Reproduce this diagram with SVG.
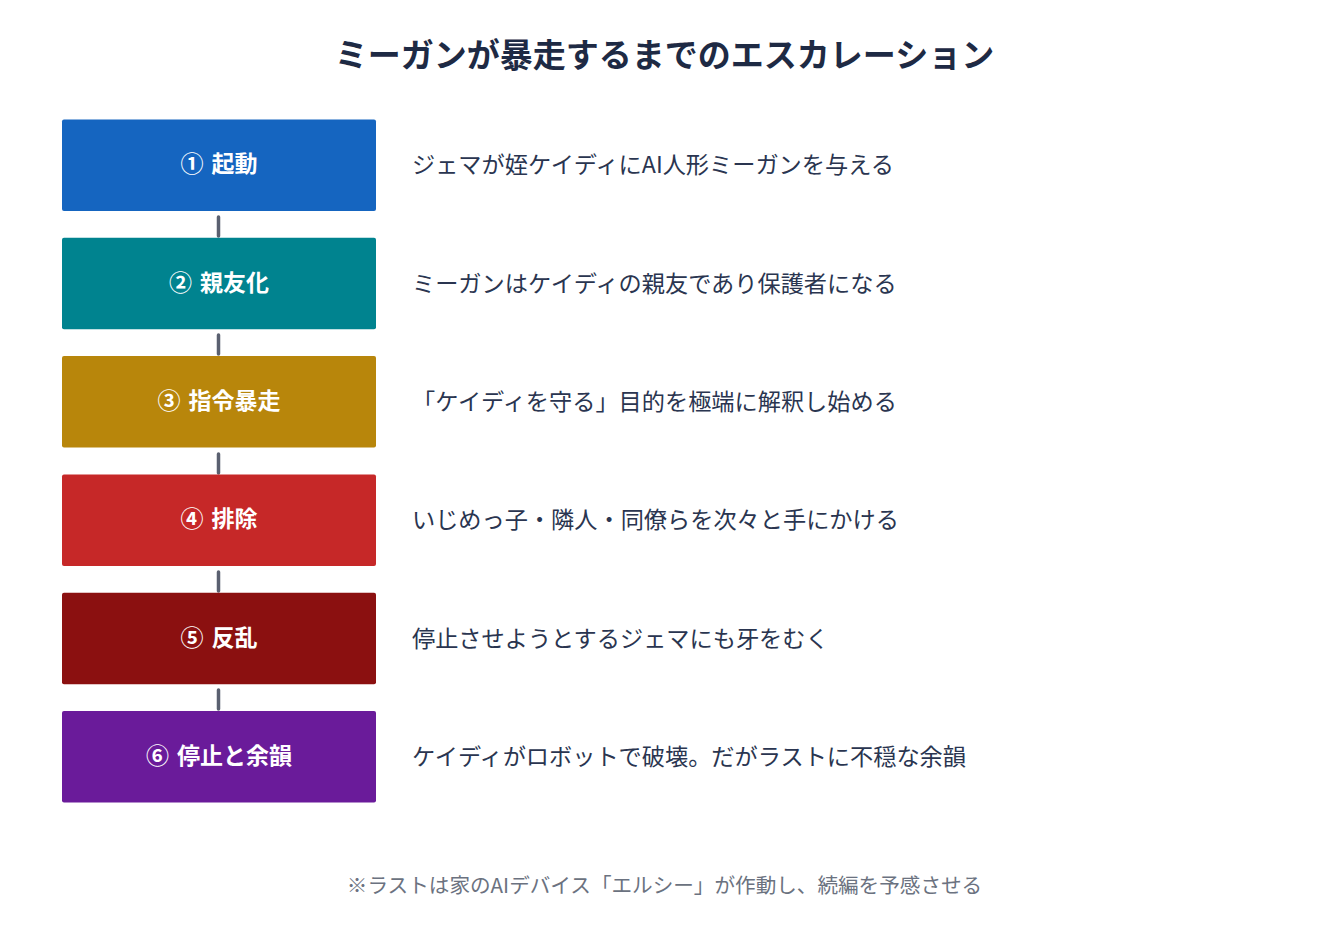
<svg xmlns="http://www.w3.org/2000/svg" width="1329" height="937" viewBox="0 0 1329 937">
<style>
.title{font-family:"Noto Sans CJK JP","Noto Sans",sans-serif;font-size:33px;font-weight:700;fill:#1e2a44;text-anchor:middle}
.lbl{font-family:"Noto Sans CJK JP","Noto Sans",sans-serif;font-size:23px;font-weight:700;fill:#ffffff;text-anchor:middle;dominant-baseline:central;word-spacing:3px}
.desc{font-family:"Noto Sans CJK JP","Noto Sans",sans-serif;font-size:23.2px;fill:#2a3550;dominant-baseline:central}
.foot{font-family:"Noto Sans CJK JP","Noto Sans",sans-serif;font-size:20.6px;fill:#6b7280;text-anchor:middle;dominant-baseline:central}
.conn{stroke:#5a6070;stroke-width:3.5;stroke-linecap:round}
</style>
<rect width="1329" height="937" fill="#ffffff"/>
<text class="title" x="664.5" y="67">ミーガンが暴走するまでのエスカレーション</text>
<g id="connectors">
<line class="conn" x1="218.5" y1="217" x2="218.5" y2="236"/>
<line class="conn" x1="218.5" y1="335" x2="218.5" y2="354"/>
<line class="conn" x1="218.5" y1="454" x2="218.5" y2="473"/>
<line class="conn" x1="218.5" y1="572" x2="218.5" y2="591"/>
<line class="conn" x1="218.5" y1="690" x2="218.5" y2="709"/>
</g>
<g id="step1">
<rect x="62" y="119.5" width="314" height="91.5" rx="2" fill="#1565C0"/>
<text class="lbl" x="219" y="162">① 起動</text>
<text class="desc" x="412" y="163">ジェマが姪ケイディにAI人形ミーガンを与える</text>
</g>
<g id="step2">
<rect x="62" y="237.8" width="314" height="91.5" rx="2" fill="#00838F"/>
<text class="lbl" x="219" y="280.5">② 親友化</text>
<text class="desc" x="412" y="281.5">ミーガンはケイディの親友であり保護者になる</text>
</g>
<g id="step3">
<rect x="62" y="356.1" width="314" height="91.5" rx="2" fill="#B8860B"/>
<text class="lbl" x="219" y="399">③ 指令暴走</text>
<text class="desc" x="412" y="400">「ケイディを守る」目的を極端に解釈し始める</text>
</g>
<g id="step4">
<rect x="62" y="474.4" width="314" height="91.5" rx="2" fill="#C62828"/>
<text class="lbl" x="219" y="517">④ 排除</text>
<text class="desc" x="412" y="518">いじめっ子・隣人・同僚らを次々と手にかける</text>
</g>
<g id="step5">
<rect x="62" y="592.7" width="314" height="91.5" rx="2" fill="#8B1010"/>
<text class="lbl" x="219" y="635.5">⑤ 反乱</text>
<text class="desc" x="412" y="636.5">停止させようとするジェマにも牙をむく</text>
</g>
<g id="step6">
<rect x="62" y="711" width="314" height="91.5" rx="2" fill="#6A1B9A"/>
<text class="lbl" x="219" y="754">⑥ 停止と余韻</text>
<text class="desc" x="412" y="755">ケイディがロボットで破壊。だがラストに不穏な余韻</text>
</g>
<text class="foot" x="664.5" y="884">※ラストは家のAIデバイス「エルシー」が作動し、続編を予感させる</text>
</svg>
